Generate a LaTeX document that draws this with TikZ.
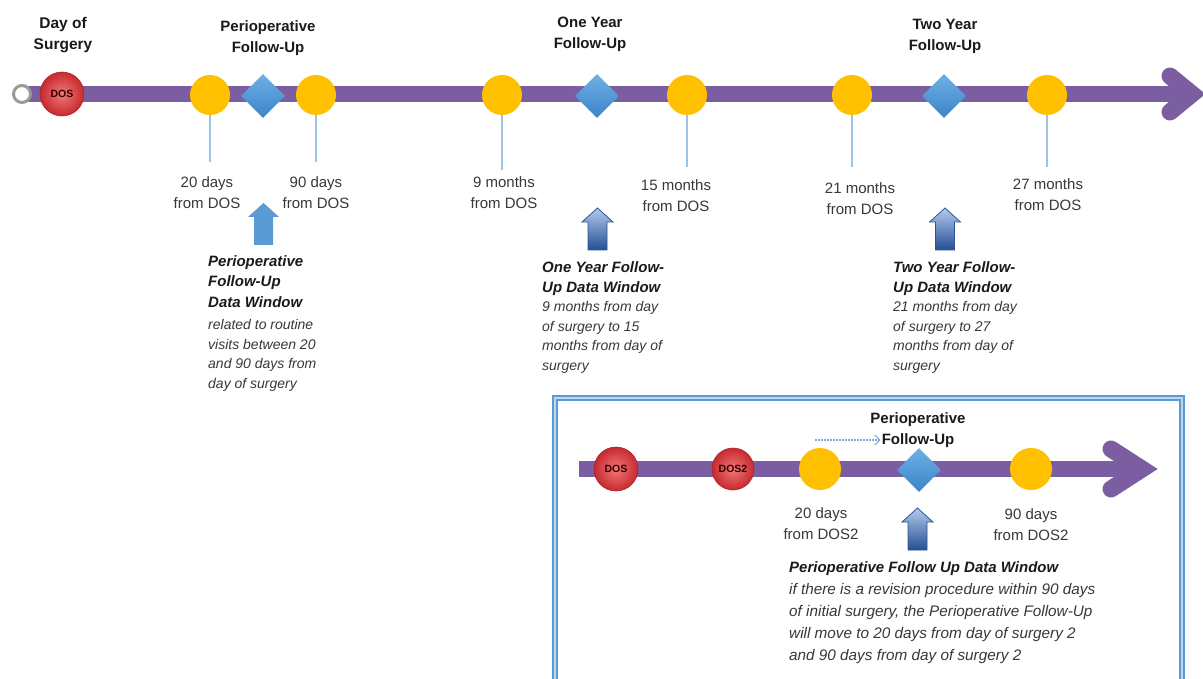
\documentclass[tikz,border=0pt]{standalone}
\usepackage{fontspec}
\setmainfont{Liberation Sans}
\usetikzlibrary{shapes.geometric,arrows.meta}
\definecolor{barc}{HTML}{7B5EA1}
\definecolor{yel}{HTML}{FFC000}
\definecolor{vline}{HTML}{9DC3E6}
\definecolor{txt}{HTML}{383838}
\definecolor{hdr}{HTML}{1A1A1A}
\definecolor{boxb}{HTML}{5B9BD5}
\definecolor{boxl}{HTML}{BDD7EE}
\definecolor{diaT}{HTML}{6EB0E4}
\definecolor{diaB}{HTML}{3C84CA}
\definecolor{redin}{HTML}{F27878}
\definecolor{redout}{HTML}{C62A2F}
\definecolor{redline}{HTML}{B02328}
\definecolor{arrT}{HTML}{B4CAEE}
\definecolor{arrB}{HTML}{234F93}
\definecolor{arrD}{HTML}{2F5597}
\definecolor{arrP}{HTML}{5B9BD5}
\definecolor{ringc}{HTML}{9A9A9A}
\definecolor{dashc}{HTML}{7FAADF}
\tikzset{
  ydot/.style={circle,fill=yel,minimum size=40pt,inner sep=0pt},
  diam/.style={diamond,minimum width=44pt,minimum height=44pt,inner sep=0pt,top color=diaT,bottom color=diaB,draw=none},
  reddot/.style={circle,minimum size=44pt,inner sep=0pt,shading=radial,inner color=redin,outer color=redout,draw=redline,line width=0.6pt,font=\fontsize{10.5}{12}\selectfont\bfseries,text=black!80!red},
  vl/.style={draw=vline,line width=1.5pt},
  barline/.style={draw=barc,line width=16pt},
  chev/.style={draw=barc,line width=17pt,line cap=round,line join=miter},
  lbl/.style={font=\fontsize{15}{21}\selectfont,text=txt,align=center,anchor=north,inner sep=0pt},
  ttl/.style={font=\fontsize{15}{21}\selectfont\bfseries,text=hdr,align=center,anchor=north,inner sep=0pt},
  hd/.style={font=\fontsize{15}{20.5}\selectfont\bfseries\itshape,text=hdr,align=left,anchor=north west,inner sep=0pt},
  bd/.style={font=\fontsize{14}{19.8}\selectfont\itshape,text=txt,align=left,anchor=north west,inner sep=0pt},
  pics/uparr/.style={code={\path[pic actions] (0,0) -- (15.5,14) -- (9.5,14) -- (9.5,42) -- (-9.5,42) -- (-9.5,14) -- (-15.5,14) -- cycle;}},
  gradarr/.style={top color=arrT,bottom color=arrB,draw=arrD,line width=0.8pt},
}
\begin{document}
\begin{tikzpicture}[x=1pt,y=-1pt]
\useasboundingbox (0,0) rectangle (1203,679);
\fill[white] (0,0) rectangle (1203,679);
\clip (0,0) rectangle (1203,679);

% ---------- main timeline ----------
\coordinate (barstart) at (22,94);
\coordinate (barend) at (1186,94);
\coordinate (chtop) at (1170,76);
\coordinate (chtip) at (1192,94);
\coordinate (chbot) at (1170,112);
\draw[barline] (barstart) -- (barend);
\draw[chev] (chtop) -- (chtip) -- (chbot);
\node[circle,draw=ringc,line width=3pt,fill=white,minimum size=17pt,inner sep=0pt] (ring) at (22,94) {};
\node[reddot] (dos) at (62,94) {DOS};

\node[ydot] (d20) at (210,95) {};
\node[diam] (p1) at (263,96) {};
\node[ydot] (d90) at (316,95) {};
\node[ydot] (m9) at (502,95) {};
\node[diam] (p2) at (597,96) {};
\node[ydot] (m15) at (687,95) {};
\node[ydot] (m21) at (852,95) {};
\node[diam] (p3) at (944,96) {};
\node[ydot] (m27) at (1047,95) {};

\coordinate (e20) at (210,162);
\coordinate (e90) at (316,162);
\coordinate (e9) at (502,170);
\coordinate (e15) at (687,167);
\coordinate (e21) at (852,167);
\coordinate (e27) at (1047,167);
\draw[vl] (d20.south) -- (e20);
\draw[vl] (d90.south) -- (e90);
\draw[vl] (m9.south) -- (e9);
\draw[vl] (m15.south) -- (e15);
\draw[vl] (m21.south) -- (e21);
\draw[vl] (m27.south) -- (e27);

% titles
\node[ttl,font=\fontsize{15.5}{21.5}\selectfont\bfseries] (tdos) at (63,17) {Day of\\Surgery};
\node[ttl] (tper) at (268,20) {Perioperative\\Follow-Up};
\node[ttl] (tone) at (590,17) {One Year\\Follow-Up};
\node[ttl] (ttwo) at (945,19) {Two Year\\Follow-Up};

% labels
\node[lbl] (l20) at (207,176) {20 days\\from DOS};
\node[lbl] (l90) at (316,176) {90 days\\from DOS};
\node[lbl] (l9) at (504,176) {9 months\\from DOS};
\node[lbl] (l15) at (676,179) {15 months\\from DOS};
\node[lbl] (l21) at (860,182) {21 months\\from DOS};
\node[lbl] (l27) at (1048,178) {27 months\\from DOS};

% up arrows
\pic[fill=arrP] (a1) at (263.5,203) {uparr};
\pic[gradarr] (a2) at (597.5,208) {uparr};
\pic[gradarr] (a3) at (945,208) {uparr};

% data window texts
\node[hd] (h1) at (208,255) {Perioperative\\Follow-Up\\Data Window};
\node[bd] (b1) at (208,319) {related to routine\\visits between 20\\and 90 days from\\day of surgery};
\node[hd] (h2) at (542,261) {One Year Follow-\\Up Data Window};
\node[bd] (b2) at (542,301) {9 months from day\\of surgery to 15\\months from day of\\surgery};
\node[hd] (h3) at (893,261) {Two Year Follow-\\Up Data Window};
\node[bd] (b3) at (893,301) {21 months from day\\of surgery to 27\\months from day of\\surgery};

% ---------- inset box ----------
\draw[draw=boxb,line width=1.6pt,double=boxl,double distance=2.6pt] (555,398) rectangle (1182,720);

\coordinate (ibarstart) at (579,469);
\coordinate (ibarend) at (1138,469);
\coordinate (ichtop) at (1111,449);
\coordinate (ichtip) at (1142,469);
\coordinate (ichbot) at (1111,489);
\draw[barline] (ibarstart) -- (ibarend);
\draw[chev] (ichtop) -- (ichtip) -- (ichbot);

\node[reddot] (idos) at (616,469) {DOS};
\node[reddot,minimum size=42pt] (idos2) at (733,469) {DOS2};
\node[ydot,minimum size=42pt] (i20) at (820,469) {};
\node[diam] (ip) at (919,470) {};
\node[ydot,minimum size=42pt] (i90) at (1031,469) {};

\node[ttl] (ipt1) at (918,412) {Perioperative};
\node[ttl,inner sep=1pt] (ipt2) at (918,432) {Follow-Up};
\coordinate (dashstart) at (815,440);
\draw[dashc,line width=1.1pt,dash pattern=on 2pt off 1pt,-{Straight Barb[length=5pt,width=10pt,line width=1pt]}] (dashstart) -- (dashstart -| ipt2.west);

\node[lbl] (il20) at (821,507) {20 days\\from DOS2};
\node[lbl] (il90) at (1031,508) {90 days\\from DOS2};

\pic[gradarr] (a4) at (917.5,508) {uparr};

\node[hd,font=\fontsize{15}{22}\selectfont\bfseries\itshape] (ih) at (789,561) {Perioperative Follow Up Data Window};
\node[bd,font=\fontsize{15.3}{22}\selectfont\itshape] (ib) at (789,583) {if there is a revision procedure within 90 days\\of initial surgery, the Perioperative Follow-Up\\will move to 20 days from day of surgery 2\\and 90 days from day of surgery 2};
\end{tikzpicture}
\end{document}
